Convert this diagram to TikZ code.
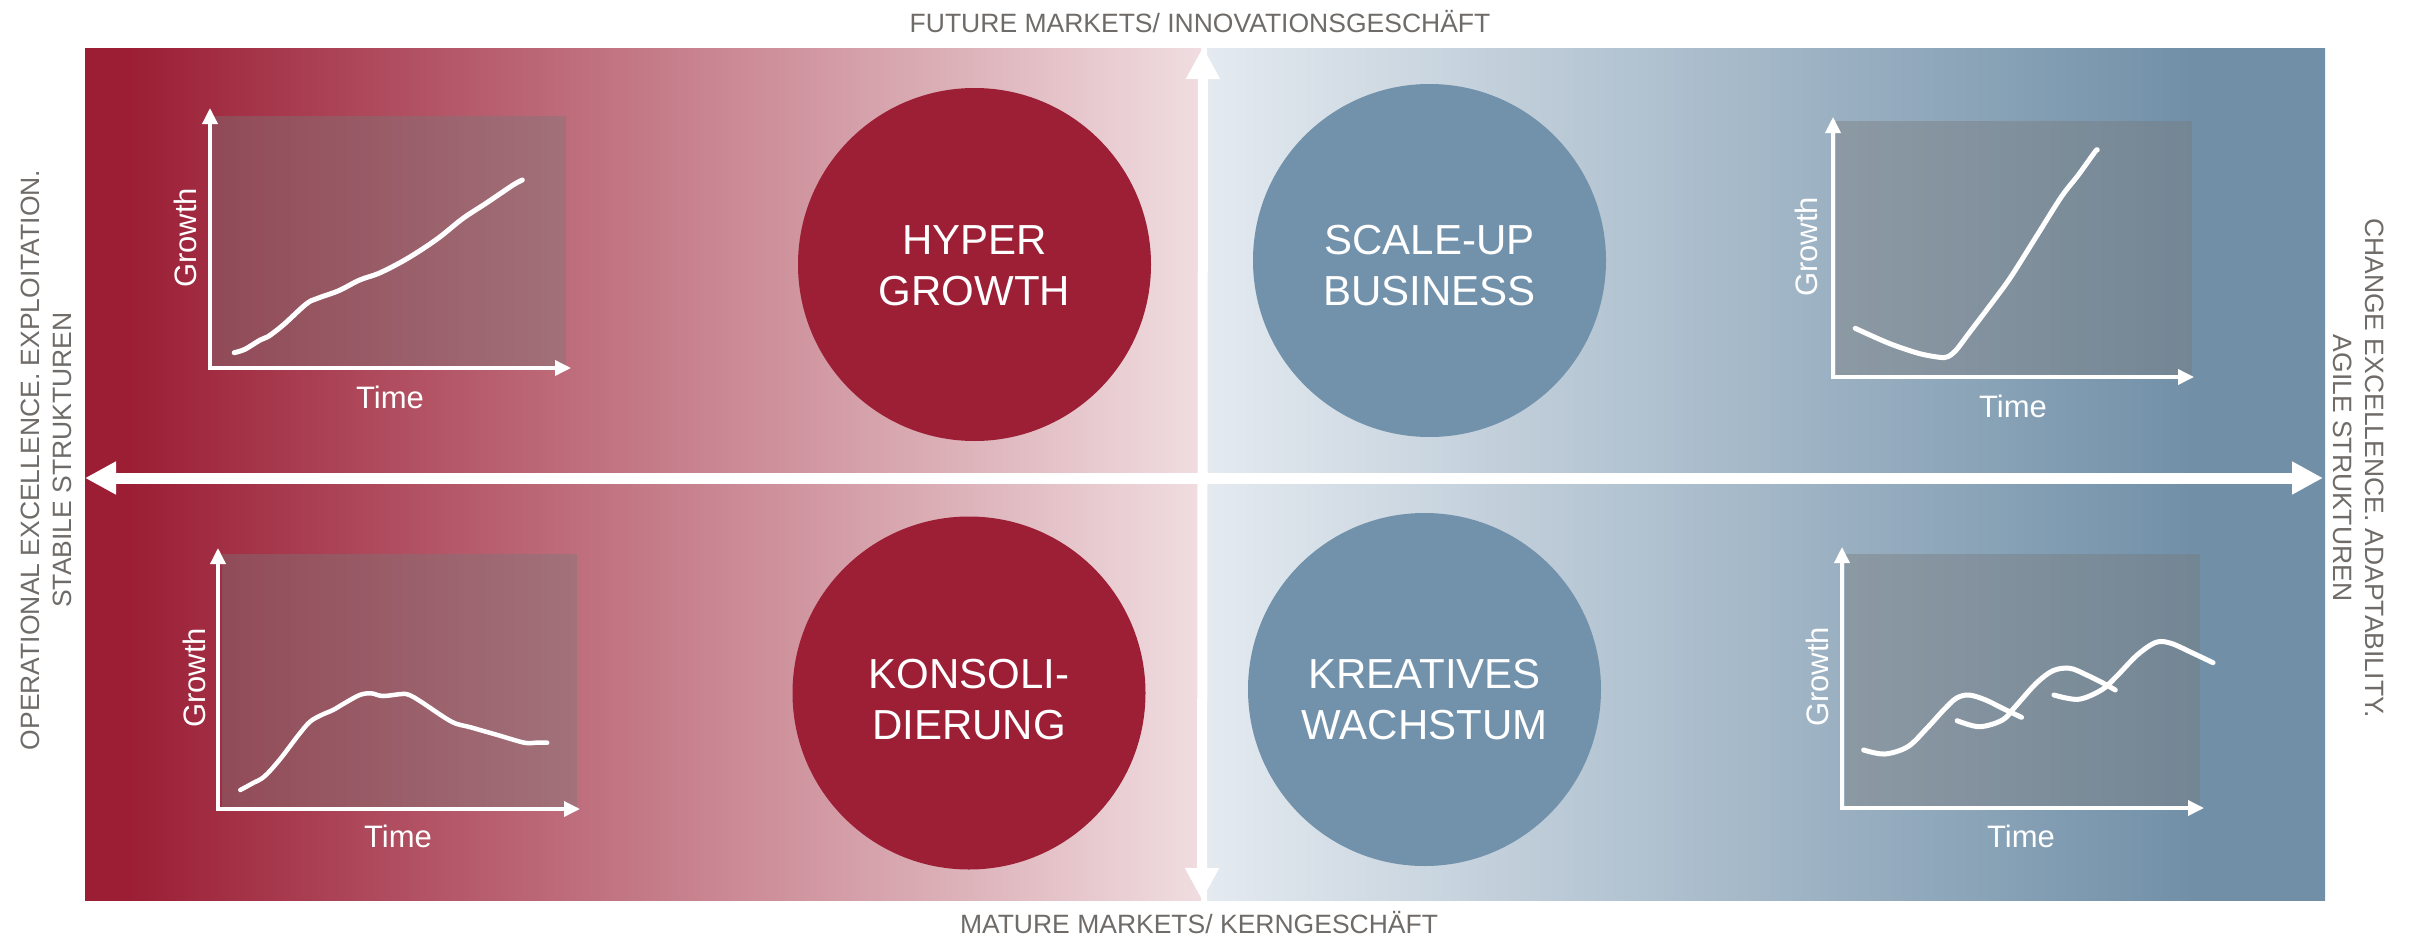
\documentclass[tikz,border=0pt]{standalone}
\usepackage{fontspec}
\setmainfont{Liberation Sans}
\usetikzlibrary{arrows.meta}
\definecolor{redD}{RGB}{155,30,53}
\definecolor{redL}{RGB}{240,221,224}
\definecolor{blueL}{RGB}{228,234,240}
\definecolor{blueD}{RGB}{113,144,168}
\definecolor{redC}{RGB}{156,31,54}
\definecolor{blueC}{RGB}{114,145,170}
\definecolor{txtgray}{RGB}{110,107,104}
\definecolor{boxgray}{RGB}{120,120,120}
\pgfdeclarehorizontalshading{redgrad}{100bp}{color(0bp)=(redD); color(27bp)=(redD); color(75bp)=(redL); color(100bp)=(redL)}
\pgfdeclarehorizontalshading{bluegrad}{100bp}{color(0bp)=(blueL); color(25bp)=(blueL); color(69bp)=(blueD); color(100bp)=(blueD)}
\tikzset{
  chartbox/.style={fill=boxgray, fill opacity=0.4},
  axisline/.style={draw=white, line width=3.5pt, line join=miter,
     {Triangle[length=16pt,width=15pt]}-{Triangle[length=16pt,width=15pt]}},
  curveline/.style={draw=white, line width=5pt, line cap=round, line join=round},
  axlabel/.style={text=white, font=\fontsize{31}{36}\selectfont, inner sep=0pt},
  bigcircle/.style={circle, minimum size=353pt, inner sep=0pt, draw=none},
  circtext/.style={text=white, align=center, font=\fontsize{42}{51}\selectfont, inner sep=0pt},
  sidetext/.style={text=txtgray, align=center, font=\fontsize{26.5}{32}\selectfont, inner sep=0pt},
  mainarrow/.style={draw=white, line width=#1},
}
\begin{document}
\begin{tikzpicture}[x=1pt,y=-1pt]
\useasboundingbox (0,0) rectangle (2410,937);
% backgrounds
\shade[shading=redgrad] (85,48) rectangle (1201,900);
\shade[shading=bluegrad] (1207,48) rectangle (2325,900);

% ---- top-left chart
\fill[chartbox] (212,116) rectangle (566,368);
\coordinate (tlO) at (210,368);
\coordinate (tlY) at (210,108);
\coordinate (tlX) at (571,368);
\draw[axisline] (tlY) -- (tlO) -- (tlX);
\draw[curveline] plot[smooth, tension=0.55] coordinates {(234.2,352.7) (244.9,349.3) (260.2,340) (267.9,336.7) (283.2,325) (306.2,304) (317.6,298.3) (338.7,290.7) (359.7,280) (378.9,273.3) (401.8,261.7) (421,250) (440.2,236.7) (463.1,218.3) (486,203.3) (513.1,185) (522.4,180)};
\node[axlabel, rotate=90, anchor=base] (tlG) at (196,238) {Growth};
\node[axlabel, anchor=base] (tlT) at (390,408) {Time};

% ---- top-right chart
\fill[chartbox] (1836,121) rectangle (2192,377);
\coordinate (trO) at (1833,377);
\coordinate (trY) at (1833,117);
\coordinate (trX) at (2194,377);
\draw[axisline] (trY) -- (trO) -- (trX);
\draw[curveline] plot[smooth, tension=0.5] coordinates {(1855.2,328.3) (1888.9,343.3) (1918.4,353.3) (1939.4,357.3) (1947.8,356.7) (1956.2,350) (1968.9,333.3) (1994.1,300) (2011,276.7) (2036.2,236.7) (2061.4,196.7) (2078.3,175) (2095.1,151.7) (2097.2,150)};
\node[axlabel, rotate=90, anchor=base] (trG) at (1817,247) {Growth};
\node[axlabel, anchor=base] (trT) at (2013,417) {Time};

% ---- bottom-left chart
\fill[chartbox] (222,554) rectangle (577,809);
\coordinate (blO) at (218,809);
\coordinate (blY) at (218,548);
\coordinate (blX) at (580,809);
\draw[axisline] (blY) -- (blO) -- (blX);
\draw[curveline, line width=4.5pt] plot[smooth, tension=0.55] coordinates {(240.3,790) (252.6,783.3) (264.1,776.7) (279.4,760) (298.5,735) (310,721.7) (321.5,715) (333,710) (344.4,703.3) (359.7,695) (371.2,693.3) (382.7,696) (401.8,694) (409.5,695) (421,701.7) (451.6,721.7) (470.7,727.3) (497.5,735) (524.3,742.7) (535.8,742.7) (547.2,742.7)};
\node[axlabel, rotate=90, anchor=base] (blG) at (205,678) {Growth};
\node[axlabel, anchor=base] (blT) at (398,847) {Time};

% ---- bottom-right chart
\fill[chartbox] (1845,554) rectangle (2200,808);
\coordinate (brO) at (1842,808);
\coordinate (brY) at (1842,547);
\coordinate (brX) at (2204,808);
\draw[axisline] (brY) -- (brO) -- (brX);
\draw[curveline] plot[smooth, tension=0.55] coordinates {(1863.6,750) (1884.7,754) (1907.8,746.7) (1926.8,728.3) (1943.6,710) (1956.2,698.3) (1968.9,695) (1985.7,700) (2002.5,708.3) (2021.5,717.3)};
\draw[curveline] plot[smooth, tension=0.55] coordinates {(1957.1,720.7) (1979.4,726.7) (2002.5,720) (2015.2,706.7) (2036.2,683.3) (2053,670.7) (2069.9,668.3) (2086.7,675) (2103.5,683.3) (2115.3,690)};
\draw[curveline] plot[smooth, tension=0.55] coordinates {(2053.9,695) (2078.3,699.3) (2101.4,690) (2116.2,676.7) (2137.2,655) (2156.1,642.3) (2170.9,643.3) (2191.9,652.7) (2213,662.7)};
\node[axlabel, rotate=90, anchor=base] (brG) at (1828,677) {Growth};
\node[axlabel, anchor=base] (brT) at (2021,847) {Time};

% ---- circles
\node[bigcircle, fill=redC] (hyper) at (974.5,264.5) {};
\node[circtext] (hyperT) at (974.5,265.5) {HYPER\\GROWTH};
\node[bigcircle, fill=blueC] (scale) at (1429.5,260.5) {};
\node[circtext] (scaleT) at (1429.5,265.5) {SCALE-UP\\BUSINESS};
\node[bigcircle, fill=redC] (konso) at (969,693) {};
\node[circtext] (konsoT) at (969,699.5) {KONSOLI-\\DIERUNG};
\node[bigcircle, fill=blueC] (kreat) at (1424.5,689.5) {};
\node[circtext] (kreatT) at (1424.5,699.5) {KREATIVES\\WACHSTUM};

% ---- main axes arrows
\coordinate (hL) at (85,478);
\coordinate (hR) at (2323,478);
\coordinate (vT) at (1203,47);
\coordinate (vB) at (1202,900);
\draw[mainarrow=11pt, {Triangle[length=31pt,width=31pt]}-{Triangle[length=31pt,width=31pt]}] (hL) -- (hR);
\draw[mainarrow=10pt, {Triangle[length=32pt,width=32pt]}-{Triangle[length=32pt,width=32pt]}] (vT) -- (vB);

% ---- outer labels
\node[sidetext, anchor=base] (topT) at (1200,32.5) {FUTURE MARKETS/ INNOVATIONSGESCHÄFT};
\node[sidetext, anchor=base] (botT) at (1199,933) {MATURE MARKETS/ KERNGESCHÄFT};
\node[sidetext, rotate=90] (leftT) at (46,460) {OPERATIONAL EXCELLENCE. EXPLOITATION.\\STABILE STRUKTUREN};
\node[sidetext, rotate=-90] (rightT) at (2359,468) {CHANGE EXCELLENCE. ADAPTABILITY.\\AGILE STRUKTUREN};
\end{tikzpicture}
\end{document}
